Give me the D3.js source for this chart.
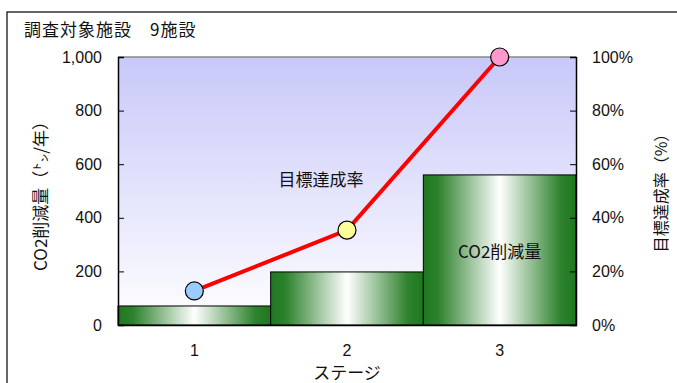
<!DOCTYPE html>
<html>
<head>
<meta charset="utf-8">
<script src="https://cdn.jsdelivr.net/npm/d3@7/dist/d3.min.js"></script>
<style>
  html, body { margin: 0; padding: 0; background: #fff; }
  svg { display: block; }
  text { font-family: "Liberation Sans", "Noto Sans CJK JP", sans-serif; fill: #111; }
  .jp { font-family: "Noto Sans CJK JP", "Liberation Sans", sans-serif; }
</style>
</head>
<body>
<svg id="chart" width="677" height="383"></svg>
<script>
// Stages surveyed
const stages = ["1", "2", "3"];
// CO2 reduction (t/year) per stage
const co2Reduction = [71, 198, 560];
// Target achievement rate (%) per stage
const achievementRate = [12.7, 35.4, 100];
// Marker fill for each stage
const markerColors = ["#99ccff", "#ffff99", "#ff99cc"];
// Axis ticks
const leftTicks = [0, 200, 400, 600, 800, 1000];
const rightTicks = [0, 20, 40, 60, 80, 100];

const svg = d3.select("#chart");
const W = 677, H = 383;
const plot = { left: 118, right: 576, top: 57, bottom: 325 };

const defs = svg.append("defs");
const bg = defs.append("linearGradient").attr("id", "bgGrad")
  .attr("x1", 0).attr("y1", 0).attr("x2", 0).attr("y2", 1);
bg.append("stop").attr("offset", "0%").attr("stop-color", "#c8c8fa");
bg.append("stop").attr("offset", "100%").attr("stop-color", "#ffffff");

const barGrad = defs.append("linearGradient").attr("id", "barGrad")
  .attr("x1", 0).attr("y1", 0).attr("x2", 1).attr("y2", 0);
barGrad.append("stop").attr("offset", "0%").attr("stop-color", "#1e781e");
barGrad.append("stop").attr("offset", "10%").attr("stop-color", "#2e822e");
barGrad.append("stop").attr("offset", "50%").attr("stop-color", "#ffffff");
barGrad.append("stop").attr("offset", "90%").attr("stop-color", "#2e822e");
barGrad.append("stop").attr("offset", "100%").attr("stop-color", "#1e781e");

// Outer frame
svg.append("rect").attr("x", 7).attr("y", 12).attr("width", W).attr("height", H)
  .attr("fill", "none").attr("stroke", "#000").attr("stroke-width", 1.2);

const x = d3.scaleBand().domain(stages).range([plot.left, plot.right]).padding(0);
const yL = d3.scaleLinear().domain([0, 1000]).range([plot.bottom, plot.top]);
const yR = d3.scaleLinear().domain([0, 100]).range([plot.bottom, plot.top]);

// Plot background
svg.append("rect").attr("x", plot.left).attr("y", plot.top)
  .attr("width", plot.right - plot.left).attr("height", plot.bottom - plot.top)
  .attr("fill", "url(#bgGrad)");
svg.append("line").attr("x1", plot.left).attr("x2", plot.right)
  .attr("y1", plot.top).attr("y2", plot.top).attr("stroke", "#888").attr("stroke-width", 1.5);

// Bars
svg.append("g").selectAll("rect").data(co2Reduction).join("rect")
  .attr("x", (d, i) => x(stages[i]))
  .attr("y", d => yL(d))
  .attr("width", x.bandwidth())
  .attr("height", d => yL(0) - yL(d))
  .attr("fill", "url(#barGrad)")
  .attr("stroke", "#000").attr("stroke-width", 1);

// Left axis
const axL = svg.append("g").attr("transform", `translate(${plot.left},0)`)
  .call(d3.axisLeft(yL).tickValues(leftTicks).tickSize(-6).tickPadding(16)
    .tickFormat(d3.format(",")));
axL.select(".domain").attr("stroke", "#000").attr("stroke-width", 1.5);
axL.selectAll("text").style("font-size", "16px").attr("fill", "#111");

// Right axis
const axR = svg.append("g").attr("transform", `translate(${plot.right},0)`)
  .call(d3.axisRight(yR).tickValues(rightTicks).tickSize(-6).tickPadding(16)
    .tickFormat(d => d + "%"));
axR.select(".domain").attr("stroke", "#000").attr("stroke-width", 1.5);
axR.selectAll("text").style("font-size", "16px").attr("fill", "#111");

// Bottom axis
const axB = svg.append("g").attr("transform", `translate(0,${plot.bottom})`)
  .call(d3.axisBottom(x).tickSize(0).tickPadding(20));
axB.select(".domain").attr("stroke", "#000").attr("stroke-width", 1.5);
axB.selectAll("text").style("font-size", "16px").attr("fill", "#111");

// Achievement line
const line = d3.line()
  .x((d, i) => x(stages[i]) + x.bandwidth() / 2)
  .y(d => yR(d));
svg.append("path").datum(achievementRate)
  .attr("d", line).attr("fill", "none")
  .attr("stroke", "#ff0000").attr("stroke-width", 4);
svg.append("g").selectAll("circle").data(achievementRate).join("circle")
  .attr("cx", (d, i) => x(stages[i]) + x.bandwidth() / 2)
  .attr("cy", d => yR(d))
  .attr("r", 9)
  .attr("fill", (d, i) => markerColors[i])
  .attr("stroke", "#000").attr("stroke-width", 1.2);

// Titles and labels
svg.append("text").attr("class", "jp").attr("x", 24).attr("y", 36)
  .style("font-size", "17px").style("letter-spacing", "1px")
  .text("調査対象施設\u30009施設");
svg.append("text").attr("class", "jp").attr("transform", "translate(47,192) rotate(-90)")
  .attr("text-anchor", "middle").style("font-size", "17px").text("CO2削減量（㌧/年）");
svg.append("text").attr("class", "jp").attr("transform", "translate(667,189) rotate(-90)")
  .attr("text-anchor", "middle").style("font-size", "16px").text("目標達成率（%）");
svg.append("text").attr("class", "jp").attr("x", (plot.left + plot.right) / 2).attr("y", 379)
  .attr("text-anchor", "middle").style("font-size", "17px").text("ステージ");
svg.append("text").attr("class", "jp").attr("x", 321).attr("y", 186)
  .attr("text-anchor", "middle").style("font-size", "17px").text("目標達成率");
svg.append("text").attr("class", "jp").attr("x", x("3") + x.bandwidth() / 2).attr("y", 258)
  .attr("text-anchor", "middle").style("font-size", "17px").text("CO2削減量");
</script>
</body>
</html>
